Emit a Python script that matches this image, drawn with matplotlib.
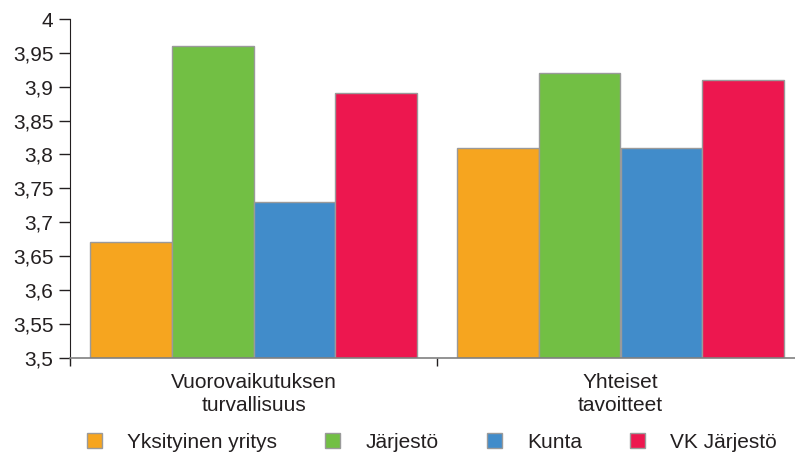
import numpy as np
import matplotlib.pyplot as plt
from matplotlib.ticker import FuncFormatter

plt.rcParams['font.family'] = ['Liberation Sans', 'DejaVu Sans']

# data
categories = ["Vuorovaikutuksen\nturvallisuus", "Yhteiset\ntavoitteet"]
series = ["Yksityinen yritys", "Järjestö", "Kunta", "VK Järjestö"]
values = [
    [3.67, 3.81],
    [3.96, 3.92],
    [3.73, 3.81],
    [3.89, 3.91],
]
colors = ["#F6A51F", "#72BF44", "#418CCA", "#ED174F"]

text_col = "#231F20"

fig = plt.figure(figsize=(7.95, 4.54), dpi=100)
ax = fig.add_axes([70 / 795, 96.5 / 454, 734 / 795, 338.5 / 454])

x = np.arange(len(categories))
w = 0.891 / 4
for i, (name, vals) in enumerate(zip(series, values)):
    ax.bar(x - 0.891 / 2 + w * (i + 0.5), vals, width=w, color=colors[i],
           edgecolor="#9A9A9A", linewidth=1.0, label=name, zorder=2)

ax.set_ylim(3.5, 4.0)
ax.set_xlim(-0.5, 1.5)
ax.set_yticks(np.arange(3.5, 4.001, 0.05))
ax.yaxis.set_major_formatter(FuncFormatter(lambda v, p: f"{v:.2f}".rstrip("0").rstrip(".").replace(".", ",")))
ax.tick_params(axis="y", length=8, width=1, colors=text_col, labelsize=15, pad=4, labelcolor=text_col)

ax.set_xticks(x)
ax.set_xticklabels(categories, fontsize=15, color=text_col, linespacing=1.25)
ax.tick_params(axis="x", length=0, pad=11)
ax.set_xticks([-0.5, 0.5, 1.5], minor=True)
ax.tick_params(axis="x", which="minor", length=6, width=1, color=text_col)

for s in ["top", "right"]:
    ax.spines[s].set_visible(False)
ax.spines["left"].set_color(text_col)
ax.spines["bottom"].set_color("#808080")
ax.spines["bottom"].set_linewidth(1.2)

leg = fig.legend(loc="center", bbox_to_anchor=(432 / 795, 1 - 442 / 454), ncol=4,
                 frameon=False, fontsize=15, handlelength=0.72, handleheight=0.72,
                 handletextpad=1.2, columnspacing=2.33)
for t in leg.get_texts():
    t.set_color(text_col)

fig.savefig("out.png", dpi=100)
